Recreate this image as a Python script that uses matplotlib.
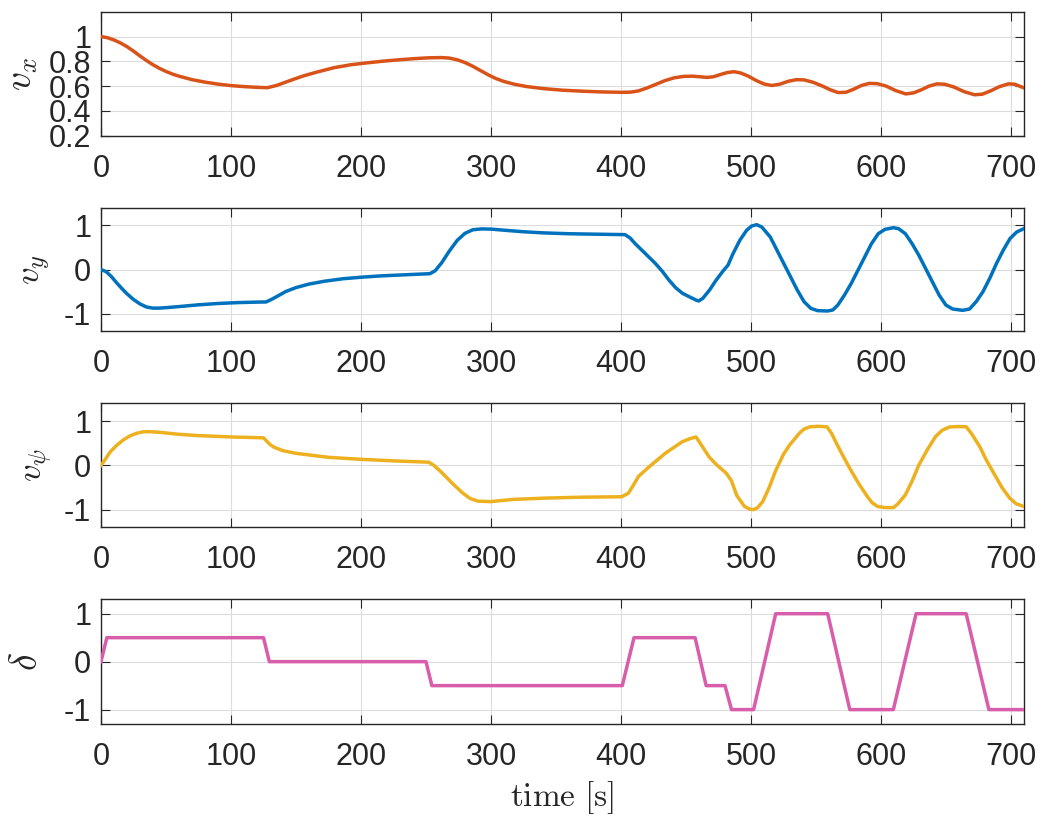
import matplotlib
matplotlib.use("Agg")
import matplotlib.pyplot as plt

plt.rcParams['font.family'] = ['Liberation Sans', 'DejaVu Sans']
plt.rcParams['mathtext.fontset'] = 'cm'

# ---- data ----
t_vx = [0, 5, 10, 15, 20, 25, 30, 35, 40, 45, 50, 55, 60, 70, 80, 90, 100, 110, 120, 128,
        135, 145, 155, 165, 179, 192, 205, 218, 230, 242, 252, 262, 268, 274, 280, 286, 292,
        298, 304, 310, 318, 327, 340, 355, 370, 385, 400, 407, 413, 420, 427, 434, 441, 448,
        455, 461, 466, 471, 477, 482, 487, 492, 498, 504, 510, 516, 522, 529, 535, 541, 548,
        555, 561, 567, 573, 579, 585, 591, 597, 604, 611, 619, 625, 631, 637, 643, 649, 656,
        664, 672, 678, 684, 691, 698, 703, 710]
vx = [1.0, 0.99, 0.972, 0.948, 0.918, 0.882, 0.843, 0.806, 0.772, 0.743, 0.718, 0.697, 0.68,
      0.652, 0.632, 0.616, 0.604, 0.596, 0.59, 0.587, 0.605, 0.643, 0.68, 0.71, 0.748, 0.772,
      0.788, 0.802, 0.813, 0.822, 0.828, 0.83, 0.826, 0.812, 0.79, 0.76, 0.725, 0.69, 0.66,
      0.637, 0.615, 0.597, 0.58, 0.567, 0.559, 0.553, 0.55, 0.551, 0.56, 0.585, 0.615, 0.645,
      0.667, 0.678, 0.68, 0.675, 0.67, 0.675, 0.695, 0.71, 0.716, 0.706, 0.68, 0.645, 0.617,
      0.605, 0.615, 0.64, 0.652, 0.65, 0.63, 0.6, 0.57, 0.548, 0.55, 0.575, 0.605, 0.622,
      0.62, 0.6, 0.565, 0.537, 0.545, 0.57, 0.6, 0.618, 0.615, 0.593, 0.555, 0.53, 0.535,
      0.56, 0.595, 0.618, 0.615, 0.585]

t_vy = [0, 4, 8, 12, 16, 20, 25, 30, 35, 40, 45, 52, 60, 75, 90, 105, 118, 127, 131, 136,
        142, 150, 160, 172, 186, 200, 215, 230, 245, 253, 257, 262, 268, 274, 280, 286, 293,
        300, 310, 325, 340, 360, 380, 403.1, 407.0, 410.9, 416.1, 421.3, 426.5, 431.7, 436.9,
        442.1, 447.3, 452.5, 457.7, 459.7, 462.9, 468.1, 473.2, 478.4, 482.3, 486.2, 491.4,
        496.6, 500.5, 504.4, 508.3, 514.8, 520.0, 525.2, 530.4, 535.6, 540.8, 546.0, 551.2,
        559.0, 562.9, 566.8, 571.9, 577.1, 582.3, 587.5, 592.7, 597.9, 603.1, 609.6, 613.5,
        618.7, 623.9, 629.1, 634.3, 639.5, 644.7, 649.9, 655.1, 662.9, 668.1, 673.2, 678.4,
        683.6, 688.8, 694.0, 699.2, 704.4, 709.9]
vy = [0.0, -0.05, -0.16, -0.3, -0.43, -0.55, -0.68, -0.78, -0.85, -0.875, -0.875, -0.86,
      -0.84, -0.8, -0.77, -0.75, -0.74, -0.735, -0.68, -0.6, -0.5, -0.41, -0.33, -0.265, -0.21,
      -0.175, -0.145, -0.125, -0.105, -0.095, -0.03, 0.15, 0.42, 0.66, 0.82, 0.9, 0.92, 0.915,
      0.89, 0.855, 0.83, 0.81, 0.8, 0.79, 0.714, 0.586, 0.436, 0.286, 0.135, -0.038, -0.24,
      -0.414, -0.54, -0.617, -0.692, -0.714, -0.654, -0.466, -0.24, -0.038, 0.098, 0.361,
      0.662, 0.887, 0.985, 1.015, 0.962, 0.737, 0.436, 0.135, -0.165, -0.466, -0.729, -0.88,
      -0.932, -0.94, -0.917, -0.805, -0.579, -0.316, -0.015, 0.286, 0.586, 0.812, 0.91,
      0.947, 0.925, 0.812, 0.586, 0.323, 0.023, -0.278, -0.579, -0.805, -0.895, -0.925,
      -0.895, -0.729, -0.504, -0.203, 0.135, 0.436, 0.699, 0.85, 0.925]

t_vpsi = [0, 3, 7, 12, 17, 22, 27, 32, 37, 45, 60, 75, 100, 125, 130, 133, 140, 150, 175,
          200, 225, 252, 256, 262, 270, 278, 284, 290, 300, 317, 343, 370, 400.5, 405.7,
          409.5, 413.5, 421, 434, 447, 453, 457.7, 462, 468, 474, 481, 485, 489, 495, 499,
          502, 505, 509, 514, 519, 525, 530, 537.7, 541, 545.5, 552, 558.4, 562, 566, 571,
          576.6, 583, 589.6, 593, 597.4, 603, 609.6, 613, 618.7, 624, 629, 636, 642, 647,
          652.6, 659, 665.6, 670, 676, 681, 686, 693, 699, 704, 710]
vpsi = [0.0, 0.12, 0.3, 0.45, 0.57, 0.66, 0.72, 0.755, 0.76, 0.745, 0.7, 0.67, 0.64, 0.62,
        0.47, 0.41, 0.33, 0.27, 0.18, 0.135, 0.1, 0.07, 0.0, -0.16, -0.4, -0.62, -0.75, -0.81,
        -0.82, -0.77, -0.74, -0.72, -0.71, -0.63, -0.45, -0.25, -0.05, 0.27, 0.53, 0.6, 0.64,
        0.45, 0.18, 0.0, -0.18, -0.35, -0.68, -0.93, -0.99, -1.0, -0.96, -0.82, -0.5, -0.12,
        0.25, 0.47, 0.74, 0.82, 0.87, 0.88, 0.87, 0.72, 0.48, 0.2, -0.1, -0.42, -0.71, -0.84,
        -0.93, -0.955, -0.955, -0.87, -0.67, -0.35, 0.0, 0.37, 0.65, 0.79, 0.865, 0.875, 0.87,
        0.7, 0.42, 0.12, -0.14, -0.5, -0.74, -0.87, -0.93]

t_delta = [0, 4.5, 125, 129.5, 250, 254.5, 401, 410, 457, 465.5, 480, 485, 502, 519, 559,
           576, 609.5, 627, 665.5, 683, 710]
delta = [0, 0.5, 0.5, 0, 0, -0.5, -0.5, 0.5, 0.5, -0.5, -0.5, -1, -1, 1, 1, -1, -1, 1, 1, -1, -1]

x_ticks = [0, 100, 200, 300, 400, 500, 600, 700]
vx_ticks = [0.2, 0.4, 0.6, 0.8, 1.0]
vx_ticklabels = ['0.2', '0.4', '0.6', '0.8', '1']
v_ticks = [-1, 0, 1]
v_ticklabels = ['-1', '0', '1']

series = [
    (t_vx, vx, '#D95319', r'$v_x$', (0.2, 1.2), vx_ticks, vx_ticklabels, 27, -0.066),
    (t_vy, vy, '#0072BD', r'$v_y$', (-1.4, 1.4), v_ticks, v_ticklabels, 25, -0.052),
    (t_vpsi, vpsi, '#EDB120', r'$v_\psi$', (-1.4, 1.4), v_ticks, v_ticklabels, 25, -0.050),
    (t_delta, delta, '#D85DAB', r'$\delta$', (-1.3, 1.3), v_ticks, v_ticklabels, 27, -0.061),
]

fig = plt.figure(figsize=(10.55, 8.18), dpi=100)
W, H = 1055, 818
left, right = 101, 1024
tops = [11.7, 207.7, 403.3, 599.3]
bots = [135.7, 331.3, 527.3, 724.0]
ink = '#262626'

for (tt, yy, col, lab, ylim, yt, ytl, lfs, lx), top, bot in zip(series, tops, bots):
    ax = fig.add_axes([left / W, 1 - bot / H, (right - left) / W, (bot - top) / H])
    ax.plot(tt, yy, color=col, lw=2.5, solid_joinstyle='round', zorder=3)
    ax.set_xlim(0, 710)
    ax.set_ylim(*ylim)
    ax.set_xticks(x_ticks)
    ax.set_yticks(yt)
    ax.set_yticklabels(ytl)
    ax.grid(True, color='#DCDCDC', lw=0.8)
    ax.set_axisbelow(True)
    ax.tick_params(direction='in', length=6.5, width=0.8, colors=ink, labelsize=22,
                   top=True, right=True)
    ax.tick_params(axis='x', pad=13)
    ax.tick_params(axis='y', pad=7)
    for s in ax.spines.values():
        s.set_color(ink)
        s.set_linewidth(1.0)
    ax.set_ylabel(lab, fontsize=lfs, color=ink)
    ax.yaxis.set_label_coords(lx, 0.5)
    last = ax

last.set_xlabel(r'$\mathrm{time\ [s]}$', fontsize=24, color=ink, labelpad=5)

fig.savefig('out.png', dpi=100)
